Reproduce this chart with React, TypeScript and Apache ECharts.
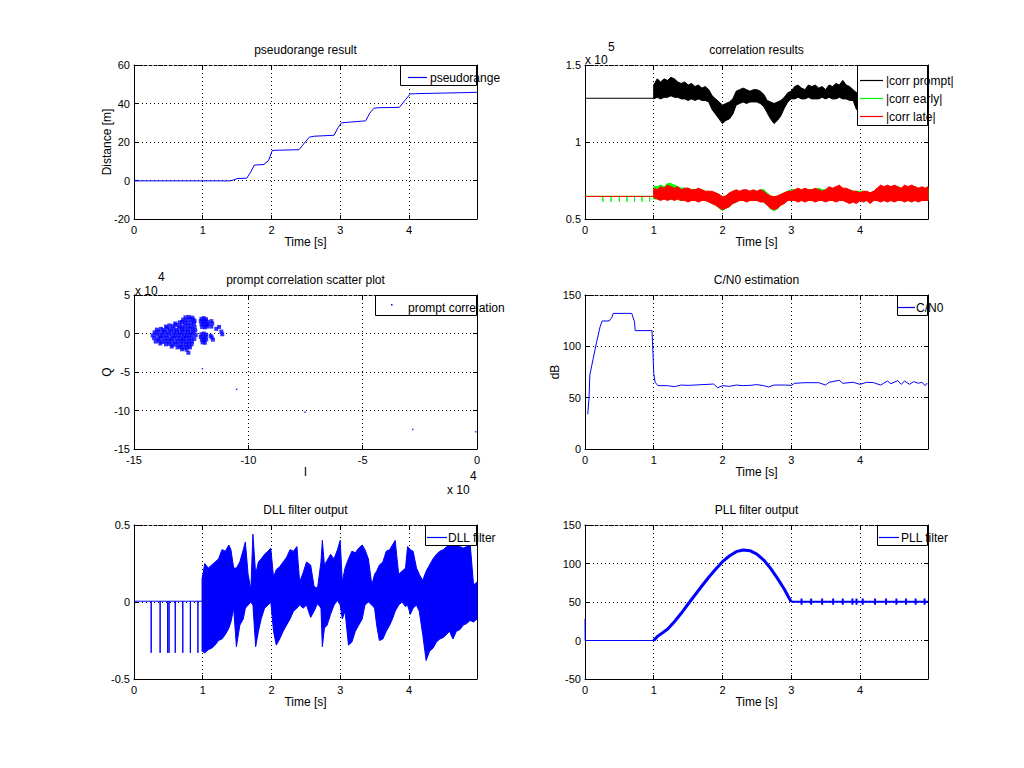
import React, { useEffect, useRef } from "react";
import * as echarts from "echarts";

// ---------------- data ----------------
// 1) pseudorange result
const prTime = [0, 1.4, 1.45, 1.5, 1.64, 1.7, 1.75, 1.89, 1.96, 2.01, 2.05, 2.4, 2.48, 2.55, 2.62, 2.91, 2.97, 3.02, 3.1, 3.37, 3.43, 3.49, 3.55, 3.86, 3.95, 4.02, 4.1, 4.99];
const prDist = [-0.2, -0.2, 0.3, 1.0, 1.2, 4.5, 8.0, 8.3, 10.5, 15.5, 15.7, 16.0, 19.5, 22.5, 23.0, 23.5, 27.5, 30.0, 30.2, 31.0, 35.0, 37.5, 37.8, 38.0, 42.0, 45.0, 45.1, 45.8];

// 2) correlation results (values x 10^5)
const corrPromptIdle = 1.284;
const corrSideIdle = 0.647;
const earlySpikeT = [0.26, 0.38, 0.5, 0.61, 0.72, 0.83, 0.94];
const earlySpikeDepth = 0.612;
const corrT = [1.0, 1.05, 1.1, 1.15, 1.2, 1.25, 1.3, 1.35, 1.4, 1.45, 1.5, 1.55, 1.6, 1.65, 1.7, 1.75, 1.8, 1.85, 1.9, 1.95, 2.0, 2.05, 2.1, 2.15, 2.2, 2.25, 2.3, 2.35, 2.4, 2.45, 2.5, 2.55, 2.6, 2.65, 2.7, 2.75, 2.8, 2.85, 2.9, 2.95, 3.0, 3.05, 3.1, 3.15, 3.2, 3.25, 3.3, 3.35, 3.4, 3.45, 3.5, 3.55, 3.6, 3.65, 3.7, 3.75, 3.8, 3.85, 3.9, 3.95, 4.0, 4.05, 4.1, 4.15, 4.2, 4.25, 4.3, 4.35, 4.4, 4.45, 4.5, 4.55, 4.6, 4.65, 4.7, 4.75, 4.8, 4.85, 4.9, 4.95, 4.99];
const promptHi = [1.37, 1.41, 1.39, 1.41, 1.4, 1.42, 1.41, 1.39, 1.38, 1.39, 1.37, 1.38, 1.36, 1.37, 1.35, 1.36, 1.34, 1.3, 1.28, 1.26, 1.24, 1.25, 1.26, 1.28, 1.33, 1.34, 1.35, 1.34, 1.33, 1.34, 1.34, 1.33, 1.31, 1.27, 1.26, 1.25, 1.26, 1.27, 1.29, 1.32, 1.33, 1.36, 1.37, 1.35, 1.34, 1.37, 1.36, 1.37, 1.35, 1.36, 1.34, 1.37, 1.36, 1.38, 1.37, 1.4, 1.37, 1.36, 1.34, 1.32, 1.35, 1.36, 1.35, 1.37, 1.36, 1.35, 1.36, 1.37, 1.35, 1.36, 1.35, 1.37, 1.36, 1.35, 1.36, 1.37, 1.35, 1.36, 1.35, 1.36, 1.35];
const promptLo = [1.28, 1.29, 1.28, 1.29, 1.29, 1.3, 1.29, 1.29, 1.28, 1.28, 1.27, 1.28, 1.27, 1.28, 1.27, 1.27, 1.26, 1.21, 1.18, 1.15, 1.12, 1.14, 1.15, 1.18, 1.24, 1.25, 1.26, 1.25, 1.26, 1.26, 1.26, 1.25, 1.23, 1.19, 1.15, 1.12, 1.14, 1.17, 1.22, 1.26, 1.28, 1.28, 1.29, 1.28, 1.28, 1.29, 1.28, 1.28, 1.28, 1.29, 1.28, 1.29, 1.28, 1.28, 1.29, 1.28, 1.28, 1.27, 1.27, 1.21, 1.26, 1.27, 1.28, 1.27, 1.27, 1.28, 1.27, 1.26, 1.27, 1.28, 1.27, 1.27, 1.28, 1.27, 1.26, 1.27, 1.28, 1.27, 1.27, 1.28, 1.27];
const earlyHi = [0.71, 0.71, 0.72, 0.71, 0.73, 0.73, 0.72, 0.71, 0.7, 0.7, 0.7, 0.69, 0.69, 0.69, 0.69, 0.68, 0.68, 0.67, 0.67, 0.66, 0.64, 0.65, 0.66, 0.68, 0.68, 0.68, 0.68, 0.68, 0.68, 0.68, 0.68, 0.69, 0.69, 0.67, 0.65, 0.64, 0.65, 0.66, 0.67, 0.68, 0.69, 0.69, 0.69, 0.69, 0.69, 0.69, 0.69, 0.69, 0.7, 0.69, 0.69, 0.7, 0.7, 0.7, 0.71, 0.7, 0.69, 0.69, 0.68, 0.68, 0.68, 0.68, 0.67, 0.67, 0.68, 0.69, 0.71, 0.71, 0.71, 0.71, 0.71, 0.71, 0.7, 0.71, 0.71, 0.71, 0.71, 0.7, 0.7, 0.7, 0.7];
const earlyLo = [0.63, 0.63, 0.63, 0.63, 0.63, 0.625, 0.63, 0.625, 0.62, 0.63, 0.62, 0.62, 0.62, 0.62, 0.62, 0.62, 0.62, 0.6, 0.59, 0.57, 0.555, 0.57, 0.58, 0.6, 0.61, 0.62, 0.62, 0.62, 0.62, 0.62, 0.62, 0.62, 0.61, 0.59, 0.565, 0.555, 0.565, 0.59, 0.61, 0.62, 0.62, 0.62, 0.62, 0.62, 0.62, 0.62, 0.62, 0.62, 0.62, 0.62, 0.62, 0.62, 0.62, 0.62, 0.62, 0.62, 0.62, 0.61, 0.62, 0.61, 0.62, 0.62, 0.62, 0.61, 0.62, 0.62, 0.62, 0.62, 0.62, 0.62, 0.62, 0.62, 0.62, 0.62, 0.62, 0.62, 0.62, 0.62, 0.62, 0.62, 0.62];
const lateHi = [0.7, 0.69, 0.71, 0.7, 0.72, 0.71, 0.7, 0.71, 0.69, 0.7, 0.7, 0.69, 0.69, 0.7, 0.69, 0.68, 0.68, 0.68, 0.67, 0.66, 0.645, 0.65, 0.67, 0.68, 0.69, 0.68, 0.69, 0.69, 0.68, 0.69, 0.68, 0.69, 0.68, 0.66, 0.65, 0.645, 0.65, 0.66, 0.67, 0.68, 0.68, 0.69, 0.7, 0.69, 0.7, 0.69, 0.69, 0.7, 0.69, 0.68, 0.69, 0.71, 0.7, 0.71, 0.72, 0.7, 0.7, 0.69, 0.68, 0.68, 0.67, 0.68, 0.68, 0.67, 0.68, 0.7, 0.72, 0.71, 0.72, 0.71, 0.72, 0.71, 0.7, 0.72, 0.71, 0.72, 0.71, 0.7, 0.71, 0.7, 0.71];
const lateLo = [0.64, 0.63, 0.62, 0.63, 0.62, 0.63, 0.62, 0.63, 0.62, 0.62, 0.61, 0.62, 0.62, 0.61, 0.62, 0.62, 0.61, 0.6, 0.59, 0.575, 0.56, 0.57, 0.58, 0.6, 0.61, 0.62, 0.62, 0.61, 0.62, 0.62, 0.62, 0.61, 0.61, 0.59, 0.57, 0.56, 0.57, 0.59, 0.6, 0.62, 0.62, 0.62, 0.61, 0.62, 0.61, 0.62, 0.62, 0.61, 0.62, 0.62, 0.61, 0.62, 0.62, 0.61, 0.62, 0.62, 0.61, 0.6, 0.61, 0.6, 0.62, 0.61, 0.62, 0.6, 0.62, 0.62, 0.61, 0.62, 0.61, 0.62, 0.61, 0.62, 0.62, 0.61, 0.62, 0.61, 0.62, 0.61, 0.62, 0.62, 0.62];

// 3) prompt correlation scatter plot (I, Q) in units of 10^4
const promptIQ: number[][] = [
  [-12.75, 2.1], [-12.6, 2.15], [-12.45, 2.05],
  [-12.85, 1.8], [-12.7, 1.75], [-12.55, 1.85], [-12.4, 1.8], [-12.35, 1.6],
  [-13.2, 1.3], [-13.0, 1.45], [-12.9, 1.5], [-12.78, 1.4], [-12.65, 1.35], [-12.5, 1.45], [-12.38, 1.3],
  [-13.6, 0.9], [-13.45, 1.05], [-13.3, 0.95], [-13.15, 1.1], [-13.0, 1.0], [-12.88, 0.9], [-12.75, 1.05], [-12.62, 0.95], [-12.5, 1.0], [-12.35, 0.85],
  [-14.0, 0.5], [-13.82, 0.6], [-13.7, 0.45], [-13.55, 0.65], [-13.42, 0.55], [-13.28, 0.6], [-13.15, 0.5], [-13.02, 0.65], [-12.9, 0.55], [-12.78, 0.6], [-12.66, 0.5], [-12.54, 0.62], [-12.42, 0.55], [-12.32, 0.4],
  [-14.1, 0.15], [-13.95, 0.25], [-13.8, 0.1], [-13.66, 0.2], [-13.52, 0.15], [-13.38, 0.25], [-13.25, 0.1], [-13.12, 0.2], [-13.0, 0.12], [-12.88, 0.25], [-12.76, 0.15], [-12.64, 0.2], [-12.52, 0.1], [-12.4, 0.22],
  [-14.18, -0.25], [-14.02, -0.15], [-13.88, -0.3], [-13.74, -0.2], [-13.6, -0.25], [-13.46, -0.15], [-13.32, -0.3], [-13.18, -0.2], [-13.05, -0.25], [-12.92, -0.15], [-12.8, -0.3], [-12.68, -0.2], [-12.56, -0.25], [-12.44, -0.15], [-12.3, -0.2],
  [-14.12, -0.6], [-13.96, -0.7], [-13.82, -0.55], [-13.68, -0.65], [-13.54, -0.6], [-13.4, -0.7], [-13.26, -0.55], [-13.12, -0.65], [-12.98, -0.6], [-12.86, -0.7], [-12.74, -0.55], [-12.62, -0.65], [-12.5, -0.6], [-12.36, -0.7],
  [-14.05, -1.05], [-13.9, -0.95], [-13.76, -1.1], [-13.62, -1.0], [-13.48, -1.05], [-13.34, -0.95], [-13.2, -1.1], [-13.06, -1.0], [-12.94, -1.05], [-12.82, -0.95], [-12.7, -1.1], [-12.58, -1.0], [-12.46, -1.05],
  [-13.85, -1.3], [-13.6, -1.4], [-13.45, -1.35], [-13.3, -1.45], [-13.15, -1.4], [-13.0, -1.5], [-12.86, -1.4], [-12.72, -1.45], [-12.6, -1.35], [-12.48, -1.4],
  [-13.35, -1.7], [-13.1, -1.8], [-12.95, -1.75], [-12.8, -1.85], [-12.66, -1.75], [-12.55, -1.8],
  [-12.9, -2.05], [-12.7, -2.1], [-12.62, -2.5],
  [-12.05, 1.9], [-11.95, 2.0], [-11.85, 1.85], [-12.08, 1.6], [-11.98, 1.55], [-11.88, 1.65], [-11.78, 1.5], [-12.05, 1.2], [-11.95, 1.25], [-11.85, 1.1], [-11.76, 1.2], [-12.02, 0.85], [-11.9, 0.8], [-11.8, 0.9], [-11.62, 1.6], [-11.58, 1.3], [-11.62, 0.9],
  [-12.05, -0.1], [-11.95, 0.0], [-11.85, -0.15], [-12.08, -0.45], [-11.97, -0.5], [-11.87, -0.4], [-12.03, -0.8], [-11.93, -0.85], [-11.84, -0.75], [-12.0, -1.15], [-11.9, -1.2], [-11.6, -0.5], [-11.55, -0.8], [-11.65, -0.3],
  [-11.28, 0.85], [-11.18, 0.25], [-11.14, -0.1], [-11.4, 0.6],
];
const promptOutliers: number[][] = [[-12.01, -4.57], [-10.51, -7.25], [-7.52, -10.24], [-2.81, -12.45], [-0.06, -12.76]];

// 4) C/N0 estimation
const cnT = [0.04, 0.06, 0.07, 0.12, 0.17, 0.22, 0.25, 0.35, 0.39, 0.41, 0.68, 0.72, 0.73, 0.975, 0.99, 1.0, 1.02, 1.06, 1.12, 1.2, 1.3, 1.4, 1.5, 1.6, 1.7, 1.8, 1.87, 1.93, 2.0, 2.1, 2.2, 2.3, 2.4, 2.5, 2.6, 2.67, 2.75, 2.9, 3.0, 3.05, 3.2, 3.4, 3.5, 3.55, 3.7, 3.75, 3.9, 4.0, 4.1, 4.2, 4.3, 4.35, 4.4, 4.45, 4.55, 4.6, 4.65, 4.72, 4.78, 4.85, 4.9, 4.95, 4.98];
const cnDb = [33.8, 51, 72, 88.3, 104.5, 119.2, 124.7, 124.7, 128, 132.1, 132.1, 124, 115.3, 115.3, 91.6, 73.7, 65, 61.7, 61.7, 61.7, 60.7, 62.3, 62, 62.3, 62.7, 63, 63.3, 59.7, 61.7, 61, 62.3, 61.7, 62, 62.7, 61.7, 60.4, 62.3, 62.3, 62, 64, 64.6, 64.6, 62.3, 65, 66.9, 64, 65, 63, 65, 64.6, 62.3, 64.3, 66.2, 63.6, 66.6, 63, 66.2, 63, 65.6, 64, 65, 61.7, 64.3];

// 5) DLL filter output
const dllIdle = 0.005;
const dllSpikeT = [0.25, 0.38, 0.49, 0.51, 0.6, 0.71, 0.82, 0.93];
const dllSpikeDepth = -0.33;
const dllT = [0.99, 1.03, 1.08, 1.13, 1.18, 1.23, 1.28, 1.33, 1.38, 1.41, 1.45, 1.49, 1.54, 1.59, 1.62, 1.66, 1.7, 1.73, 1.77, 1.81, 1.85, 1.9, 1.95, 1.99, 2.03, 2.07, 2.12, 2.17, 2.22, 2.27, 2.32, 2.37, 2.41, 2.46, 2.51, 2.57, 2.62, 2.67, 2.72, 2.74, 2.77, 2.81, 2.86, 2.91, 2.96, 3.0, 3.03, 3.07, 3.12, 3.17, 3.22, 3.27, 3.32, 3.36, 3.41, 3.46, 3.5, 3.53, 3.57, 3.62, 3.67, 3.72, 3.76, 3.8, 3.85, 3.9, 3.95, 3.98, 4.02, 4.06, 4.11, 4.15, 4.2, 4.25, 4.3, 4.35, 4.4, 4.45, 4.5, 4.55, 4.59, 4.64, 4.69, 4.74, 4.79, 4.84, 4.89, 4.94, 4.99];
const dllHi = [0.15, 0.25, 0.22, 0.24, 0.26, 0.28, 0.34, 0.33, 0.37, 0.34, 0.22, 0.22, 0.26, 0.34, 0.39, 0.18, 0.08, 0.44, 0.18, 0.26, 0.28, 0.31, 0.33, 0.35, 0.16, 0.21, 0.23, 0.26, 0.29, 0.34, 0.33, 0.36, 0.13, 0.19, 0.26, 0.24, 0.1, 0.09, 0.26, 0.4, 0.24, 0.27, 0.31, 0.28, 0.34, 0.4, 0.13, 0.22, 0.28, 0.33, 0.32, 0.35, 0.37, 0.34, 0.28, 0.11, 0.18, 0.2, 0.24, 0.26, 0.33, 0.34, 0.37, 0.4, 0.18, 0.2, 0.22, 0.36, 0.34, 0.33, 0.22, 0.18, 0.14, 0.2, 0.24, 0.28, 0.31, 0.33, 0.34, 0.36, 0.37, 0.37, 0.37, 0.36, 0.35, 0.36, 0.38, 0.11, 0.13];
const dllLo = [-0.32, -0.33, -0.31, -0.3, -0.28, -0.25, -0.24, -0.21, -0.17, -0.13, -0.04, -0.29, -0.15, -0.11, -0.04, -0.02, 0.0, -0.02, -0.29, -0.19, -0.11, -0.04, -0.02, 0.0, -0.19, -0.28, -0.24, -0.19, -0.15, -0.11, -0.06, -0.04, -0.02, -0.04, -0.02, -0.1, -0.06, -0.01, -0.04, -0.29, -0.17, -0.15, -0.08, -0.02, 0.01, -0.02, -0.11, -0.06, -0.28, -0.26, -0.19, -0.15, -0.11, -0.02, 0.0, -0.02, -0.04, -0.15, -0.25, -0.24, -0.19, -0.15, -0.11, -0.06, -0.02, 0.0, -0.03, -0.02, -0.08, -0.04, -0.02, -0.06, -0.21, -0.38, -0.32, -0.3, -0.26, -0.24, -0.23, -0.21, -0.19, -0.24, -0.19, -0.18, -0.15, -0.14, -0.12, -0.13, -0.11];

// 6) PLL filter output
const pllStartT = [0, 0.002, 1.0];
const pllStartV = [28, 0, 0];
const pllRiseT = [1.0, 1.05, 1.2, 1.3, 1.4, 1.5, 1.6, 1.7, 1.8, 1.9, 2.0, 2.1, 2.2, 2.3, 2.4, 2.5, 2.6, 2.7, 2.8, 2.9, 2.97, 3.0];
const pllRiseV = [0, 5, 14.5, 24.4, 35.3, 47.4, 59.1, 70.8, 82.1, 92.4, 102.4, 109.7, 115.4, 117.5, 116.6, 112.3, 104.5, 93.7, 80.7, 66.5, 54.8, 50.4];
const pllHold = 50.4;
const pllSpikeT = [3.15, 3.29, 3.45, 3.61, 3.75, 3.89, 3.95, 4.04, 4.22, 4.38, 4.53, 4.67, 4.81, 4.94];
const pllSpikeAmp = 4;
const pllEndT = 4.99;

// ---------------- layout / style ----------------
const FONT = '"Liberation Sans", Arial, Helvetica, sans-serif';
const BLUE = "#0000ff";
const GW = 343;
const GH = 154;
const GRIDS = [
  { left: 134, top: 65 },
  { left: 585, top: 65 },
  { left: 134, top: 295 },
  { left: 585, top: 295 },
  { left: 134, top: 525 },
  { left: 585, top: 525 },
];

function buildOption() {
  const xAxes: any[] = [];
  const yAxes: any[] = [];
  const tick = { show: true, inside: true, length: 4, lineStyle: { color: "#000", width: 1 } };
  const lbl = { color: "#000", fontSize: 11, fontFamily: FONT };
  const split = { show: true, lineStyle: { color: "#000", width: 1, type: [1, 3] } };

  function axes(g: number, xr: number[], yr: number[], showMaxX: boolean) {
    xAxes.push({
      type: "value", gridIndex: g, position: "bottom", min: xr[0], max: xr[1], interval: xr[2],
      axisLine: { show: true, onZero: false, lineStyle: { color: "#000", width: 1 } },
      axisTick: tick, axisLabel: { ...lbl, margin: 5, showMaxLabel: showMaxX }, splitLine: split,
    });
    xAxes.push({
      type: "value", gridIndex: g, position: "top", min: xr[0], max: xr[1], interval: xr[2],
      axisLine: { show: true, onZero: false, lineStyle: { color: "#000", width: 1, type: [3, 2] } },
      axisTick: tick, axisLabel: { show: false }, splitLine: { show: false },
    });
    yAxes.push({
      type: "value", gridIndex: g, position: "left", min: yr[0], max: yr[1], interval: yr[2],
      axisLine: { show: true, onZero: false, lineStyle: { color: "#000", width: 1 } },
      axisTick: tick, axisLabel: { ...lbl, margin: 4 }, splitLine: split,
    });
    yAxes.push({
      type: "value", gridIndex: g, position: "right", min: yr[0], max: yr[1], interval: yr[2],
      axisLine: { show: true, onZero: false, lineStyle: { color: "#000", width: 1 } },
      axisTick: tick, axisLabel: { show: false }, splitLine: { show: false },
    });
  }
  axes(0, [0, 4.99, 1], [-20, 60, 20], false);
  axes(1, [0, 4.99, 1], [0.5, 1.5, 0.5], false);
  axes(2, [-15, 0, 5], [-15, 5, 5], true);
  axes(3, [0, 4.99, 1], [0, 150, 50], false);
  axes(4, [0, 4.99, 1], [-0.5, 0.5, 0.5], false);
  axes(5, [0, 4.99, 1], [-50, 150, 50], false);

  const ax = (g: number) => ({ xAxisIndex: 2 * g, yAxisIndex: 2 * g });
  const line = (g: number, name: string, data: number[][], color: string, width = 1) => ({
    type: "line", name, ...ax(g), data, symbol: "none", showSymbol: false,
    lineStyle: { color, width }, itemStyle: { color }, silent: true,
  });
  // noisy band: filled polygon between the low and high envelope
  const band = (g: number, name: string, t: number[], lo: number[], hi: number[], color: string) => ({
    type: "custom", name, ...ax(g), silent: true,
    data: t.map((x, i) => [x, lo[i], hi[i]]),
    encode: { x: 0, y: [1, 2] },
    renderItem: (params: any, api: any) => {
      if (params.dataIndex !== 0) return null;
      const top = t.map((x, i) => api.coord([x, hi[i]]));
      const bottom = t.map((x, i) => api.coord([x, lo[i]])).reverse();
      return {
        type: "polygon",
        shape: { points: top.concat(bottom) },
        style: { fill: color, stroke: color, lineWidth: 1 },
      };
    },
  });

  const earlyIdle: number[][] = [[0, corrSideIdle]];
  earlySpikeT.forEach((t) => { earlyIdle.push([t, corrSideIdle], [t, earlySpikeDepth], [t, corrSideIdle]); });
  earlyIdle.push([1.0, corrSideIdle]);

  const dllIdleData: number[][] = [[0, dllIdle]];
  dllSpikeT.forEach((t) => { dllIdleData.push([t, dllIdle], [t, dllSpikeDepth], [t, dllIdle]); });
  dllIdleData.push([dllT[0], dllIdle]);

  const pllHoldData: number[][] = [[pllRiseT[pllRiseT.length - 1], pllHold]];
  pllSpikeT.forEach((t) => {
    pllHoldData.push([t, pllHold], [t, pllHold + pllSpikeAmp], [t, pllHold - pllSpikeAmp], [t, pllHold]);
  });
  pllHoldData.push([pllEndT, pllHold]);

  const series: any[] = [
    line(0, "pseudorange", prTime.map((t, i) => [t, prDist[i]]), BLUE),

    line(1, "|corr prompt| idle", [[0, corrPromptIdle], [1.0, corrPromptIdle]], "#000"),
    band(1, "|corr prompt|", corrT, promptLo, promptHi, "#000"),
    line(1, "|corr early| idle", earlyIdle, "#00ff00"),
    band(1, "|corr early|", corrT, earlyLo, earlyHi, "#00ff00"),
    line(1, "|corr late| idle", [[0, corrSideIdle], [1.0, corrSideIdle]], "#ff0000"),
    band(1, "|corr late|", corrT, lateLo, lateHi, "#ff0000"),

    {
      type: "scatter", name: "prompt correlation", ...ax(2), data: promptIQ,
      symbol: "rect", symbolSize: 4, itemStyle: { color: BLUE }, silent: true,
    },
    {
      type: "scatter", name: "prompt correlation outliers", ...ax(2), data: promptOutliers,
      symbol: "rect", symbolSize: 1.5, itemStyle: { color: BLUE }, silent: true,
    },

    line(3, "C/N0", cnT.map((t, i) => [t, cnDb[i]]), BLUE),

    line(4, "DLL filter idle", dllIdleData, BLUE),
    band(4, "DLL filter", dllT, dllLo, dllHi, BLUE),

    line(5, "PLL filter start", pllStartT.map((t, i) => [t, pllStartV[i]]), BLUE, 1),
    line(5, "PLL filter", pllRiseT.map((t, i) => [t, pllRiseV[i]]), BLUE, 3),
    line(5, "PLL filter hold", pllHoldData, BLUE, 2),
  ];

  // ---------- graphic texts & legends ----------
  const els: any[] = [];
  const txt = (x: number, y: number, text: string, align = "left", size = 12, rot = 0) => {
    els.push({
      type: "text", x, y, rotation: rot, z: 100,
      style: {
        text, fill: "#000", font: `${size}px ${FONT}`, fontSize: size, fontFamily: FONT,
        textAlign: align, align, textVerticalAlign: "middle", verticalAlign: "middle",
      },
    });
  };
  const rect = (x: number, y: number, w: number, h: number) => {
    els.push({
      type: "rect", z: 99, shape: { x: x + 0.5, y: y + 0.5, width: w, height: h },
      style: { fill: "#fff", stroke: "#000", lineWidth: 1 },
    });
  };
  const seg = (x1: number, x2: number, y: number, color: string) => {
    els.push({
      type: "line", z: 100, shape: { x1, y1: y + 0.5, x2, y2: y + 0.5 },
      style: { stroke: color, lineWidth: 1.2 },
    });
  };

  const titles = ["pseudorange result", "correlation results", "prompt correlation scatter plot", "C/N0 estimation", "DLL filter output", "PLL filter output"];
  GRIDS.forEach((g, i) => {
    const cx = g.left + GW / 2;
    txt(cx, g.top - 15, titles[i], "center");
    txt(cx, g.top + GH + 23, i === 2 ? "I" : "Time [s]", "center");
  });
  txt(107, 142, "Distance [m]", "center", 12, Math.PI / 2);
  txt(107, 372, "Q", "center", 12, Math.PI / 2);
  txt(555, 372, "dB", "center", 12, Math.PI / 2);

  txt(585, 60, "x 10", "left");
  txt(608, 47, "5", "left");
  txt(135, 291, "x 10", "left");
  txt(158, 277, "4", "left");
  txt(447, 490, "x 10", "left");
  txt(470, 476, "4", "left");

  rect(400, 65, 76, 20);
  seg(408, 427, 77, BLUE);
  txt(430, 78, "pseudorange");

  rect(857, 65, 70, 60);
  seg(860, 883, 80, "#000");
  txt(886, 81, "|corr prompt|");
  seg(860, 883, 98, "#00ff00");
  txt(886, 99, "|corr early|");
  seg(860, 883, 116, "#ff0000");
  txt(886, 117, "|corr late|");

  rect(375, 295, 101, 20);
  els.push({ type: "rect", z: 100, shape: { x: 391, y: 304, width: 1.5, height: 1.5 }, style: { fill: BLUE } });
  txt(408, 308, "prompt correlation");

  rect(897, 295, 30, 20);
  seg(898, 915, 307, BLUE);
  txt(916, 308, "C/N0");

  rect(425, 525, 51, 20);
  seg(427, 447, 537, BLUE);
  txt(448, 538, "DLL filter");

  rect(877, 525, 50, 20);
  seg(879, 899, 537, BLUE);
  txt(901, 538, "PLL filter");

  return {
    animation: false,
    backgroundColor: "#ffffff",
    textStyle: { fontFamily: FONT },
    grid: GRIDS.map((g) => ({ left: g.left, top: g.top, width: GW, height: GH, show: false, containLabel: false })),
    xAxis: xAxes,
    yAxis: yAxes,
    series,
    graphic: { elements: els },
  };
}

export default function App() {
  const ref = useRef<HTMLDivElement>(null);
  useEffect(() => {
    if (!ref.current) return;
    const chart = echarts.init(ref.current, undefined, { renderer: "svg" });
    chart.setOption(buildOption() as any);
    return () => chart.dispose();
  }, []);
  return (
    <div
      ref={ref}
      style={{ position: "fixed", left: 0, top: 0, width: 1024, height: 768, background: "#fff" }}
    />
  );
}
